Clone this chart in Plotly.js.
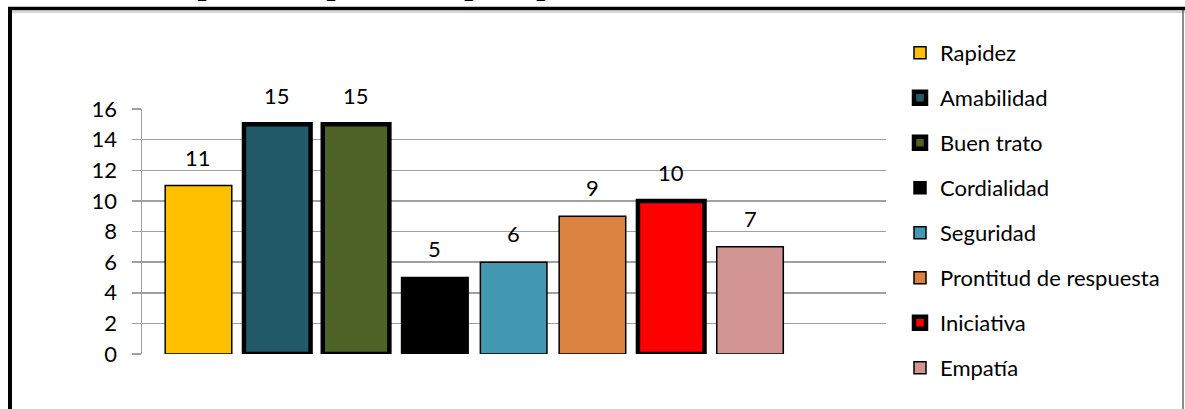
<!DOCTYPE html>
<html>
<head>
<meta charset="utf-8">
<script src="https://cdn.plot.ly/plotly-3.0.1.min.js"></script>
<style>
  html, body { margin: 0; padding: 0; background: #ffffff; }
  #chart { width: 1185px; height: 409px; }
</style>
</head>
<body>
<div id="chart"></div>
<script>
// Aspects rated as important for good customer service
const categories = ["Rapidez", "Amabilidad", "Buen trato", "Cordialidad", "Seguridad",
                    "Prontitud de respuesta", "Iniciativa", "Empatía"];
const counts = [11, 15, 15, 5, 6, 9, 10, 7];
const fillColors = ["#FFC000", "#235A69", "#4F6228", "#000000", "#4399B1",
                    "#DC8342", "#FF0000", "#D39494"];
const heavyOutline = [false, true, true, false, false, false, true, false];
const yTicks = [0, 2, 4, 6, 8, 10, 12, 14, 16];
const chartTitle = "Aspectos importantes para prestar una buena atención al cliente";

const W = 1185, H = 409;
const M = { l: 142, r: 299, t: 109, b: 55 };
const plotW = W - M.l - M.r, plotH = H - M.t - M.b;
// pixel -> paper helpers for frame and legend placement
const px = x => (x - M.l) / plotW;
const py = y => (H - M.b - y) / plotH;

const font = "Lato, 'Open Sans', sans-serif";

const traces = categories.map((name, i) => ({
  type: "bar",
  name: name,
  x: [name],
  y: [counts[i]],
  legendgroup: "g" + i,
  marker: {
    color: fillColors[i],
    line: { color: "#000000", width: heavyOutline[i] ? 4.5 : 1.5 }
  },
  hoverinfo: "x+y"
}));

const valueLabels = categories.map((name, i) => ({
  x: name, y: counts[i], xref: "x", yref: "y",
  text: String(counts[i]), showarrow: false,
  yanchor: "bottom", yshift: 13,
  font: { family: font, size: 22, color: "#000000" }
}));

const titleNote = {
  x: px(600), y: py(3), xref: "paper", yref: "paper",
  xanchor: "center", yanchor: "bottom", showarrow: false,
  text: "<b>" + chartTitle + "</b>",
  font: { family: "'Liberation Serif', 'Times New Roman', serif", size: 32, color: "#000000" }
};

const frame = [
  { type: "line", xref: "paper", yref: "paper", x0: px(8), x1: px(1185), y0: py(12), y1: py(12),
    line: { color: "#c8c8c8", width: 1.5 } },
  { type: "line", xref: "paper", yref: "paper", x0: px(8), x1: px(1185), y0: py(8.5), y1: py(8.5),
    line: { color: "#000000", width: 3.5 } },
  { type: "line", xref: "paper", yref: "paper", x0: px(10), x1: px(10), y0: py(7), y1: py(420),
    line: { color: "#000000", width: 4 } },
  { type: "line", xref: "paper", yref: "paper", x0: px(1183), x1: px(1183), y0: py(10), y1: py(420),
    line: { color: "#404040", width: 1.2 } }
];

const layout = {
  width: W, height: H,
  margin: M,
  paper_bgcolor: "#ffffff",
  plot_bgcolor: "#ffffff",
  barmode: "overlay",
  bargap: 0.155,
  showlegend: true,
  legend: {
    x: px(900), y: py(32), xanchor: "left", yanchor: "top",
    font: { family: font, size: 22, color: "#000000" },
    tracegroupgap: 13.4,
    maxheight: 400,
    bgcolor: "rgba(0,0,0,0)"
  },
  xaxis: {
    type: "category",
    range: [-0.717, 8.726],
    showticklabels: false,
    ticks: "",
    showgrid: false,
    zeroline: false,
    showline: false,
    fixedrange: true
  },
  yaxis: {
    range: [0, 16],
    tickvals: yTicks,
    ticktext: yTicks.map(String),
    ticks: "outside",
    ticklen: 9,
    tickwidth: 1.5,
    tickcolor: "#a0a0a0",
    ticklabelstandoff: 10,
    tickfont: { family: font, size: 22, color: "#000000" },
    showgrid: true,
    gridcolor: "#a0a0a0",
    gridwidth: 1.5,
    showline: true,
    linecolor: "#a0a0a0",
    linewidth: 1.5,
    zeroline: false,
    fixedrange: true
  },
  annotations: valueLabels.concat([titleNote]),
  shapes: frame
};

Plotly.newPlot("chart", traces, layout, { displayModeBar: false, staticPlot: true });
</script>
</body>
</html>
